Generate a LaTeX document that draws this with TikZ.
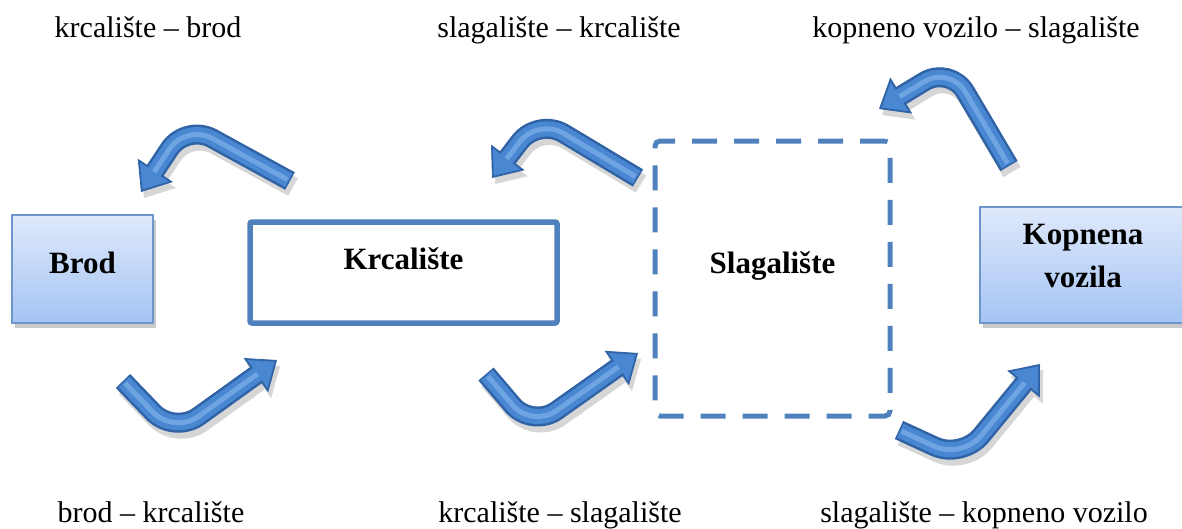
\documentclass[tikz,border=0pt]{standalone}
\usepackage{fontspec}
\setmainfont{Liberation Serif}
\usetikzlibrary{arrows.meta,shadows}

\definecolor{arrowdark}{HTML}{2F63A6}
\definecolor{arrowmid}{HTML}{4A87D2}
\definecolor{arrowlight}{HTML}{8DBDF0}
\definecolor{boxline}{HTML}{4F81BD}
\definecolor{softline}{HTML}{6F96CB}
\definecolor{boxtop}{HTML}{DFE9FB}
\definecolor{boxbottom}{HTML}{A4C4F4}

\tikzset{
  flowlabel/.style={font=\fontsize{30}{36}\selectfont, anchor=base},
  boxtext/.style={font=\fontsize{31}{43}\selectfont\bfseries, align=center},
  endbox/.style={draw=softline, line width=1.6pt, top color=boxtop, bottom color=boxbottom,
    drop shadow={shadow xshift=3pt, shadow yshift=-5pt, opacity=0.35, fill=black!60},
    inner sep=0pt},
  yardbox/.style={draw=boxline, line width=5.5pt, rounded corners=2pt, fill=white, inner sep=0pt},
  stackbox/.style={draw=boxline, line width=5pt, rounded corners=5pt,
    dash pattern=on 25pt off 17pt, inner sep=0pt},
  bent/.style={rounded corners=30pt},
}

% a bent 3D arrow: tail, bend, tip
\newcommand\bentarrow[3]{%
  \begin{scope}[transparency group, opacity=0.16]
    \draw[bent, line width=20pt, black, -{Triangle[length=26pt,width=42pt,line width=0.8pt]}]
      ([shift={(3,6)}]#1) -- ([shift={(3,6)}]#2) -- ([shift={(3,6)}]#3);
  \end{scope}
  \draw[bent, line width=20pt, arrowdark, -{Triangle[length=26pt,width=42pt,line width=0.8pt]}]
    (#1) -- (#2) -- (#3);
  \draw[bent, line width=15pt, arrowmid, shorten <=1.5pt, shorten >=3pt,
    -{Triangle[length=21pt,width=34pt,line width=0.6pt]}]
    (#1) -- (#2) -- (#3);
  \draw[bent, line width=5pt, arrowlight, opacity=0.55, shorten <=3pt, shorten >=24pt]
    (#1) -- (#2) -- (#3);
}

\begin{document}
\begin{tikzpicture}[x=1pt,y=-1pt]
  \useasboundingbox (0,0) rectangle (1182,528);

  % stations
  \node[endbox, minimum width=141pt, minimum height=108pt] (brod) at (82.5,269) {};
  \node[boxtext] (brodtxt) at ([yshift=6pt]brod.center) {Brod};

  \node[yardbox, minimum width=307pt, minimum height=101pt] (krc) at (403.5,272.5) {};
  \node[boxtext] (krctxt) at ([yshift=14pt]krc.center) {Krcalište};

  \node[stackbox, minimum width=235pt, minimum height=275pt] (slag) at (772.5,278.5) {};
  \node[boxtext] (slagtxt) at ([yshift=13pt]slag.center) {Slagalište};

  \node[endbox, minimum width=206pt, minimum height=116pt] (kop) at (1083,265) {};
  \node[boxtext] (koptxt) at ([yshift=9pt]kop.center) {Kopnena\\vozila};

  % arrow geometry
  \coordinate (a1) at (290,181); \coordinate (a2) at (186,124); \coordinate (a3) at (141,192);
  \coordinate (c1) at (638,178); \coordinate (c2) at (538,118); \coordinate (c3) at (492,178);
  \coordinate (e1) at (1009,166); \coordinate (e2) at (950,66); \coordinate (e3) at (879,109);
  \coordinate (b1) at (123,381); \coordinate (b2) at (174,434); \coordinate (b3) at (277,360);
  \coordinate (d1) at (486,374); \coordinate (d2) at (532,428); \coordinate (d3) at (638,353);
  \coordinate (f1) at (899,430); \coordinate (f2) at (962,459); \coordinate (f3) at (1040,364);

  \bentarrow{a1}{a2}{a3}
  \bentarrow{c1}{c2}{c3}
  \bentarrow{e1}{e2}{e3}
  \bentarrow{b1}{b2}{b3}
  \bentarrow{d1}{d2}{d3}
  \bentarrow{f1}{f2}{f3}

  % flow labels
  \node[flowlabel] (l1) at (148,37) {krcalište – brod};
  \node[flowlabel] (l2) at (559,37) {slagalište – krcalište};
  \node[flowlabel] (l3) at (976,37) {kopneno vozilo – slagalište};
  \node[flowlabel] (l4) at (151,522) {brod – krcalište};
  \node[flowlabel] (l5) at (560,522) {krcalište – slagalište};
  \node[flowlabel] (l6) at (984,522) {slagalište – kopneno vozilo};
\end{tikzpicture}
\end{document}
